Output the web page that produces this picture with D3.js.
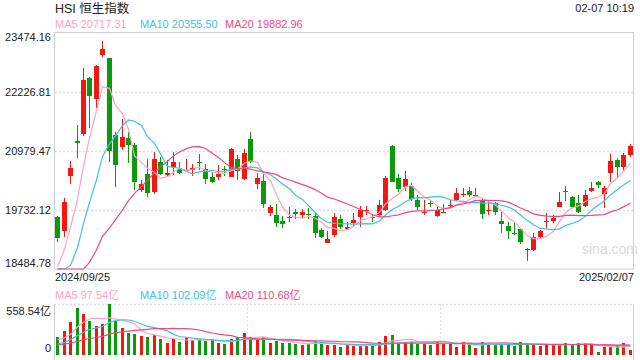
<!DOCTYPE html>
<html>
<head>
<meta charset="utf-8">
<script src="https://cdn.jsdelivr.net/npm/d3@7"></script>
<style>
body { margin: 0; background: #fff; }
text { font-family: "Liberation Sans", Arial, "Noto Sans CJK SC", sans-serif; }
</style>
</head>
<body>
<svg id="chart" width="640" height="360"></svg>
<script>
// HSI daily candles, 2024/09/25 - 2025/02/07
var dates = [
  "2024/09/25","2024/09/26","2024/09/27","2024/09/30",
  "2024/10/02","2024/10/03","2024/10/04","2024/10/07","2024/10/08","2024/10/09","2024/10/10","2024/10/14",
  "2024/10/15","2024/10/16","2024/10/17","2024/10/18","2024/10/21","2024/10/22","2024/10/23","2024/10/24",
  "2024/10/25","2024/10/28","2024/10/29","2024/10/30","2024/10/31",
  "2024/11/01","2024/11/04","2024/11/05","2024/11/06","2024/11/07","2024/11/08","2024/11/11","2024/11/12",
  "2024/11/13","2024/11/14","2024/11/15","2024/11/18","2024/11/19","2024/11/20","2024/11/21","2024/11/22",
  "2024/11/25","2024/11/26","2024/11/27","2024/11/28","2024/11/29",
  "2024/12/02","2024/12/03","2024/12/04","2024/12/05","2024/12/06","2024/12/09","2024/12/10","2024/12/11",
  "2024/12/12","2024/12/13","2024/12/16","2024/12/17","2024/12/18","2024/12/19","2024/12/20","2024/12/23",
  "2024/12/24","2024/12/27","2024/12/30","2024/12/31",
  "2025/01/02","2025/01/03","2025/01/06","2025/01/07","2025/01/08","2025/01/09","2025/01/10","2025/01/13",
  "2025/01/14","2025/01/15","2025/01/16","2025/01/17","2025/01/20","2025/01/21","2025/01/22","2025/01/23",
  "2025/01/24","2025/01/27","2025/01/28",
  "2025/02/03","2025/02/04","2025/02/05","2025/02/06","2025/02/07"
];

var open = [
  19588,19293,20453,21190,21326,22520,22065,22999,22930,21312,
  21065,21248,21101,20151,20489,20116,20748,20468,20630,20594,
  20560,20573,20740,20588,20419,20432,20594,20432,20799,20383,
  21227,20271,20341,19672,19624,19497,19590,19681,19624,19650,
  19603,19307,19039,19203,19540,19321,19449,19589,19720,19585,
  19624,19729,21080,20398,20208,20236,19940,19680,19880,19603,
  19675,19830,19940,20060,20137,20040,19940,19715,19870,19490,
  19392,19245,19329,18900,18885,19153,19480,19504,19799,20135,
  19997,19870,19814,20137,20326,20067,20503,20784,20643,20890
];
var high = [
  19610,19976,20763,21523,22719,22541,22789,23295,22942,21380,
  21643,21381,21140,20362,20799,20959,20854,20784,20947,20748,
  20799,20693,20909,20693,20537,20679,20650,21031,20890,21010,
  21381,20504,20537,19835,19856,19603,19786,19750,19750,19765,
  19694,19343,19286,19660,19624,19483,19660,19814,19814,19645,
  19940,20447,21101,20489,20558,20293,20046,19940,19926,19814,
  19856,19940,20187,20187,20208,20187,19955,19904,19904,19694,
  19483,19448,19343,18920,19237,19307,19660,19624,20103,20236,
  20025,20046,20151,20327,20341,20236,20911,20820,20926,21122
];
var low = [
  19061,19166,20272,20820,21300,21453,21875,22964,20748,20221,
  21000,20715,20151,20116,19997,20067,20468,20447,20468,20490,
  20537,20447,20573,20278,20300,20362,20447,20420,20362,20370,
  20715,20166,19765,19609,19364,19343,19483,19533,19554,19539,
  19132,19132,19030,19166,19322,19300,19377,19377,19624,19482,
  19575,19715,20310,20116,20137,19926,19729,19624,19799,19588,
  19660,19750,19919,20010,20000,20000,19539,19624,19624,19251,
  19111,19202,19012,18660,18870,19132,19343,19449,19786,19926,
  19765,19659,19786,20116,20187,19765,20326,20432,20573,20841
];
var close = [
  19132,19892,20609,21150,22472,22141,22767,23126,20974,20679,
  21262,21101,20326,20278,20094,20799,20489,20504,20736,20516,
  20580,20609,20730,20383,20326,20489,20580,21016,20558,20938,
  20748,20411,19856,19799,19449,19428,19575,19645,19681,19638,
  19237,19153,19111,19575,19363,19377,19518,19730,19735,19575,
  19835,20411,20326,20166,20377,19955,19799,19695,19870,19729,
  19690,19845,20082,20075,20046,20055,19638,19730,19694,19435,
  19293,19235,19048,18885,19166,19286,19495,19567,19905,20125,
  19786,19694,20040,20194,20257,20187,20769,20643,20890,21080
];
// turnover, 亿
var volume = [
  200,266,365,518,449,372,318,339,558.54,376,
  296,244,230,208,200,219,175,135,175,146,
  189,164,164,153,164,135,120,175,194,244,
  194,164,194,135,157,128,135,120,110,117,
  157,146,110,110,84,110,102,102,110,99,
  139,208,219,135,146,146,120,120,110,146,
  135,120,84,139,120,77,139,120,110,120,
  120,99,139,120,120,99,110,110,113,128,
  110,128,128,120,36,84,95,95,135,55
];
// the 19 sessions before the window, only used by the moving averages
var priorClose = [17692.45,17786.32,17989.07,17651.45,17651.15,17457.34,17444.30,17444.30,17196.96,17234.09,
  17108.71,17240.39,17369.09,17422.12,17660.02,18013.16,18258.57,18247.11,19000.56];
var priorVolume = [100,95,170,95,90,100,95,85,90,80,75,72,78,85,70,145,180,110,185];

var yTicks = [23474.16, 22226.81, 20979.47, 19732.12, 18484.78];
var volMax = 558.54;
var maDays = [5, 10, 20];
var maColors = ["#ffa2c2", "#3cc4e2", "#ee4a82"];
var priceLegend = ["MA5 20717.31", "MA10 20355.50", "MA20 19882.96"];
var volLegend = ["MA5 97.54亿", "MA10 102.09亿", "MA20 110.68亿"];

var UP = "#f2180f", DOWN = "#0a9a0a", GRID = "#dedede", BORDER = "#cfcfcf", TXT = "#222";

var svg = d3.select("#chart");
var L = 54, R = 633, T = 32.5, B = 269, VT = 304, VB = 355;

var x = d3.scaleBand().domain(dates).range([L, R]);
var cx = function(i) { return Math.round(x(dates[i]) + x.bandwidth() / 2); };
var y = d3.scaleLinear().domain([yTicks[4], yTicks[0]]).range([B, T]);
var yv = d3.scaleLinear().domain([0, volMax]).range([VB, VT]);

function movingAvg(prior, vals, n) {
  var all = prior.concat(vals);
  return vals.map(function(v, i) {
    var end = prior.length + i + 1;
    return d3.mean(all.slice(end - n, end));
  });
}

// --- price panel frame and grid
svg.append("rect").attr("x", L + 0.5).attr("y", T).attr("width", R - L).attr("height", B - T)
  .attr("fill", "none").attr("stroke", BORDER);
svg.selectAll(".grid").data(yTicks.slice(1, 4)).enter().append("line")
  .attr("x1", L + 1).attr("x2", R)
  .attr("y1", function(d) { return Math.round(y(d)) + 0.5; })
  .attr("y2", function(d) { return Math.round(y(d)) + 0.5; })
  .attr("stroke", GRID).attr("stroke-width", 1.5).attr("stroke-dasharray", "2,2");

svg.selectAll(".ylab").data(yTicks).enter().append("text")
  .attr("x", 51).attr("text-anchor", "end").attr("font-size", 11).attr("fill", TXT)
  .attr("y", function(d, i) {
    if (i === 0) return T + 8;
    if (i === 4) return B - 2;
    return y(d) + 4;
  })
  .text(function(d) { return d.toFixed(2); });

svg.append("text").attr("x", 582).attr("y", 254).attr("font-size", 14).attr("fill", "#d9d9d9")
  .text("sina.com");

// --- candles
var idx = d3.range(dates.length);
var candles = svg.append("g").attr("shape-rendering", "crispEdges");
candles.selectAll("line").data(idx).enter().append("line")
  .attr("x1", function(i) { return cx(i) + 0.5; })
  .attr("x2", function(i) { return cx(i) + 0.5; })
  .attr("y1", function(i) { return y(high[i]); })
  .attr("y2", function(i) { return y(low[i]); })
  .attr("stroke", function(i) { return close[i] >= open[i] ? UP : DOWN; });
candles.selectAll("rect").data(idx).enter().append("rect")
  .attr("x", function(i) { return cx(i) - 2; })
  .attr("width", 5)
  .attr("y", function(i) { return y(Math.max(open[i], close[i])); })
  .attr("height", function(i) { return Math.max(1, Math.abs(y(open[i]) - y(close[i]))); })
  .attr("fill", function(i) { return close[i] >= open[i] ? UP : DOWN; });

// --- moving averages (clamped to the panel floor like the original)
maDays.forEach(function(n, k) {
  var ma = movingAvg(priorClose, close, n);
  var line = d3.line()
    .x(function(d, i) { return cx(i) + 0.5; })
    .y(function(d) { return y(Math.max(d, yTicks[4])); });
  svg.append("path").datum(ma).attr("d", line).attr("fill", "none")
    .attr("stroke", maColors[k]).attr("stroke-width", 1.2);
});

// --- header texts
svg.append("text").attr("x", 55).attr("y", 12.5).attr("font-size", 12.5).attr("fill", TXT).text("HSI 恒生指数");
svg.append("text").attr("x", 634).attr("y", 12).attr("font-size", 11).attr("fill", TXT)
  .attr("text-anchor", "end").text("02-07 10:19");
var legX = [55, 140, 225];
priceLegend.forEach(function(t, k) {
  svg.append("text").attr("x", legX[k]).attr("y", 28).attr("font-size", 11)
    .attr("fill", maColors[k]).text(t);
});
svg.append("text").attr("x", 55).attr("y", 281).attr("font-size", 11).attr("fill", TXT).text(dates[0]);
svg.append("text").attr("x", 634).attr("y", 281).attr("font-size", 11).attr("fill", TXT)
  .attr("text-anchor", "end").text(dates[dates.length - 1]);

// --- volume panel
volLegend.forEach(function(t, k) {
  svg.append("text").attr("x", legX[k]).attr("y", 299).attr("font-size", 11)
    .attr("fill", maColors[k]).text(t);
});
svg.append("line").attr("x1", L).attr("x2", R).attr("y1", VT + 0.5).attr("y2", VT + 0.5)
  .attr("stroke", GRID).attr("stroke-width", 1.5).attr("stroke-dasharray", "2,2");
[L + (R - L) / 3, L + 2 * (R - L) / 3].forEach(function(vx) {
  svg.append("line").attr("x1", Math.round(vx) + 0.5).attr("x2", Math.round(vx) + 0.5)
    .attr("y1", VT).attr("y2", VB + 2)
    .attr("stroke", GRID).attr("stroke-width", 1).attr("stroke-dasharray", "2,2");
});
svg.append("line").attr("x1", L + 0.5).attr("x2", L + 0.5).attr("y1", VT).attr("y2", 360).attr("stroke", BORDER);
svg.append("line").attr("x1", R + 0.5).attr("x2", R + 0.5).attr("y1", VT).attr("y2", 360).attr("stroke", BORDER);

svg.append("text").attr("x", 51).attr("y", 315).attr("text-anchor", "end").attr("font-size", 11)
  .attr("fill", TXT).text(volMax.toFixed(2) + "亿");
svg.append("text").attr("x", 51).attr("y", 352).attr("text-anchor", "end").attr("font-size", 11)
  .attr("fill", TXT).text("0");

svg.append("g").attr("shape-rendering", "crispEdges")
  .selectAll("rect").data(idx).enter().append("rect")
  .attr("x", function(i) { return cx(i) - 1; })
  .attr("width", 3)
  .attr("y", function(i) { return yv(volume[i]); })
  .attr("height", function(i) { return VB - yv(volume[i]); })
  .attr("fill", function(i) { return close[i] >= open[i] ? UP : DOWN; });

maDays.forEach(function(n, k) {
  var ma = movingAvg(priorVolume, volume, n);
  var line = d3.line()
    .x(function(d, i) { return cx(i) + 0.5; })
    .y(function(d) { return yv(d); });
  svg.append("path").datum(ma).attr("d", line).attr("fill", "none")
    .attr("stroke", maColors[k]).attr("stroke-width", 1.2);
});
</script>
</body>
</html>
